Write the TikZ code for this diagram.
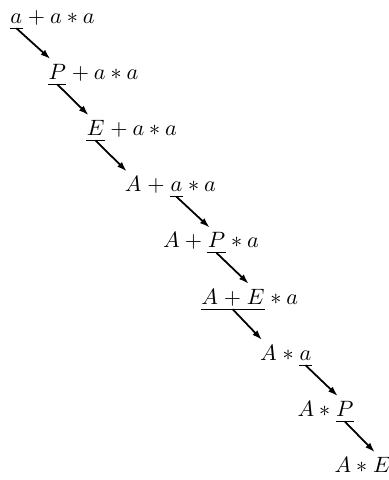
\documentclass[tikz,border=0pt]{standalone}
\usepackage{amsmath,amssymb}
\usepackage{tikz}
\usetikzlibrary{arrows.meta, positioning, calc}

\begin{document}
\begin{tikzpicture}[
    tok/.style={inner xsep=0pt, inner ysep=2pt, text height=7pt, text depth=0pt},
    first/.style={tok, anchor=base west},
    uline/.style={line width=0.4pt},
    arrow/.style={-{Latex[length=4.5pt,width=3pt]}, thick}
]
    \useasboundingbox (-4.5pt,10.5pt) rectangle (170.7pt,-205.7pt);

    % a + a * a
    \node[first] (l1h) at (0pt,0pt) {$a$};
    \node[tok, right=0pt of l1h] (l1r) {${}+a*a$};
    % P + a * a
    \node[first] (l2h) at (17.2pt,-25.3pt) {$P$};
    \node[tok, right=0pt of l2h] (l2r) {${}+a*a$};
    % E + a * a
    \node[first] (l3h) at (34.4pt,-50.6pt) {$E$};
    \node[tok, right=0pt of l3h] (l3r) {${}+a*a$};
    % A + a * a
    \node[first] (l4a) at (51.6pt,-75.9pt) {$A$};
    \node[tok, right=0pt of l4a] (l4p) {${}+{}$};
    \node[tok, right=0pt of l4p] (l4h) {$a$};
    \node[tok, right=0pt of l4h] (l4r) {${}*a$};
    % A + P * a
    \node[first] (l5l) at (68.8pt,-101.2pt) {$A+{}$};
    \node[tok, right=0pt of l5l] (l5h) {$P$};
    \node[tok, right=0pt of l5h] (l5r) {${}*a$};
    % A + E * a
    \node[first] (l6a) at (86pt,-126.5pt) {$A$};
    \node[tok, right=0pt of l6a] (l6p) {${}+{}$};
    \node[tok, right=0pt of l6p] (l6e) {$E$};
    \node[tok, right=0pt of l6e] (l6r) {${}*a$};
    % A * a
    \node[first] (l7a) at (112.5pt,-151.8pt) {$A$};
    \node[tok, right=0pt of l7a] (l7s) {${}*{}$};
    \node[tok, right=0pt of l7s] (l7h) {$a$};
    % A * P
    \node[first] (l8l) at (129.3pt,-177.1pt) {$A*{}$};
    \node[tok, right=0pt of l8l] (l8h) {$P$};
    % A * E
    \node[first] (l9l) at (146pt,-202.4pt) {$A*{}$};
    \node[tok, right=0pt of l9l] (l9e) {$E$};

    % handles
    \draw[uline] (l1h.south west) -- (l1h.south east);
    \draw[uline] (l2h.south west) -- (l2h.south east);
    \draw[uline] (l3h.south west) -- (l3h.south east);
    \draw[uline] (l4h.south west) -- (l4h.south east);
    \draw[uline] (l5h.south west) -- (l5h.south east);
    \draw[uline] (l6a.south west) -- (l6e.south east);
    \draw[uline] (l7h.south west) -- (l7h.south east);
    \draw[uline] (l8h.south west) -- (l8h.south east);

    % reductions
    \draw[arrow] (l1h.south) -- ([xshift=1pt]l2h.north west);
    \draw[arrow] (l2h.south) -- ([xshift=1pt]l3h.north west);
    \draw[arrow] (l3h.south) -- ([xshift=1pt]l4a.north west);
    \draw[arrow] (l4h.south) -- ([xshift=1pt]l5h.north west);
    \draw[arrow] (l5h.south) -- ([xshift=1pt]l6e.north west);
    \draw[arrow] (l6p.south) -- ([xshift=1pt]l7a.north west);
    \draw[arrow] (l7h.south) -- ([xshift=1pt]l8h.north west);
    \draw[arrow] (l8h.south) -- ([xshift=1pt]l9e.north west);
\end{tikzpicture}
\end{document}
